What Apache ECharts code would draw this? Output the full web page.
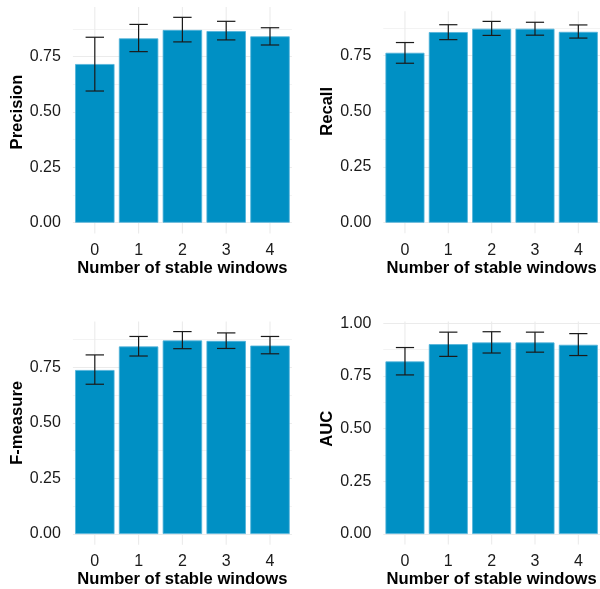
<!DOCTYPE html>
<html>
<head>
<meta charset="utf-8">
<script src="https://cdn.jsdelivr.net/npm/echarts@6/dist/echarts.min.js"></script>
<style>
  html, body { margin: 0; padding: 0; background: #fff; }
  #chart { width: 600px; height: 589px; }
</style>
</head>
<body>
<div id="chart"></div>
<script>
// number of stable windows
const windows = ['0', '1', '2', '3', '4'];

const precisionMean = [0.717, 0.833, 0.871, 0.866, 0.842];
const precisionLow  = [0.595, 0.773, 0.817, 0.826, 0.803];
const precisionHigh = [0.838, 0.896, 0.928, 0.910, 0.881];

const recallMean = [0.763, 0.856, 0.871, 0.871, 0.857];
const recallLow  = [0.716, 0.822, 0.841, 0.842, 0.829];
const recallHigh = [0.809, 0.889, 0.904, 0.900, 0.888];

const fmeasureMean = [0.738, 0.844, 0.871, 0.869, 0.848];
const fmeasureLow  = [0.674, 0.801, 0.834, 0.835, 0.811];
const fmeasureHigh = [0.806, 0.889, 0.911, 0.905, 0.889];

const aucMean = [0.819, 0.901, 0.909, 0.909, 0.898];
const aucLow  = [0.755, 0.843, 0.859, 0.863, 0.847];
const aucHigh = [0.885, 0.958, 0.960, 0.958, 0.951];

const yTicks = [0, 0.25, 0.5, 0.75, 1];

const panels = [
  { name: 'Precision', mean: precisionMean, low: precisionLow, high: precisionHigh },
  { name: 'Recall',    mean: recallMean,    low: recallLow,    high: recallHigh },
  { name: 'F-measure', mean: fmeasureMean,  low: fmeasureLow,  high: fmeasureHigh },
  { name: 'AUC',       mean: aucMean,       low: aucLow,       high: aucHigh }
];

// pixel boxes: top = where 1.00 would sit, bottom of box = 0.00
const boxes = [
  { left: 72.9,  top: 1.4,   width: 219, height: 221.3 },
  { left: 383.3, top: -4.5,  width: 219, height: 227.2 },
  { left: 72.9,  top: 311.8, width: 219, height: 223.7 },
  { left: 383.3, top: 323.3, width: 219, height: 212.2 }
];

const FONT = "'Liberation Sans', Arial, sans-serif";
const BAR = '#0090c4';
const GRID_LINE = '#ebebeb';

const grids = [], xAxes = [], yAxes = [], series = [];

panels.forEach((p, i) => {
  const showTop = i === 3;
  grids.push(Object.assign({}, boxes[i]));

  xAxes.push({
    gridIndex: i,
    type: 'category',
    data: windows,
    name: 'Number of stable windows',
    nameLocation: 'middle',
    nameGap: 37,
    nameTextStyle: { fontFamily: FONT, fontSize: 16.6, fontWeight: 'bold', color: '#000' },
    axisLine: { show: false },
    axisTick: { show: false },
    splitLine: { show: false },
    axisLabel: { fontFamily: FONT, fontSize: 16, color: '#1a1a1a', margin: 20 }
  });

  yAxes.push({
    gridIndex: i,
    type: 'value',
    min: yTicks[0],
    max: yTicks[yTicks.length - 1],
    interval: 0.25,
    name: p.name,
    nameLocation: 'middle',
    nameGap: 46,
    nameTextStyle: { fontFamily: FONT, fontSize: 16.6, fontWeight: 'bold', color: '#000' },
    axisLine: { show: false },
    axisTick: { show: false },
    axisLabel: {
      fontFamily: FONT, fontSize: 16, color: '#1a1a1a', margin: 12,
      showMaxLabel: showTop,
      formatter: v => v.toFixed(2)
    },
    splitLine: { show: true, showMaxLine: showTop, lineStyle: { color: GRID_LINE, width: 1.1 } },
    minorTick: { show: false, splitNumber: 2 },
    minorSplitLine: { show: true, lineStyle: { color: '#f3f3f3', width: 1 } }
  });

  // vertical grid lines across the ggplot-style expanded panel
  const yTop = Math.max(...p.high) * 1.05;
  const yBot = -0.05 * yTop;
  series.push({
    type: 'custom',
    xAxisIndex: i, yAxisIndex: i,
    z: 1, silent: true, clip: false,
    data: windows.map((w, k) => [k]),
    renderItem: (params, api) => {
      const a = api.coord([api.value(0), yBot]);
      const b = api.coord([api.value(0), yTop]);
      return {
        type: 'line',
        shape: { x1: a[0], y1: a[1], x2: b[0], y2: b[1] },
        style: { stroke: GRID_LINE, lineWidth: 1.1 }
      };
    }
  });

  series.push({
    type: 'bar',
    xAxisIndex: i, yAxisIndex: i,
    z: 2,
    barWidth: '90%',
    data: p.mean,
    itemStyle: { color: BAR, borderColor: '#52b3d9', borderWidth: 0.8 },
    silent: true
  });

  series.push({
    type: 'custom',
    xAxisIndex: i, yAxisIndex: i,
    z: 5, silent: true, clip: false,
    data: p.low.map((l, k) => [k, l, p.high[k]]),
    encode: { x: 0, y: [1, 2] },
    renderItem: (params, api) => {
      const k = api.value(0);
      const lo = api.coord([k, api.value(1)]);
      const hi = api.coord([k, api.value(2)]);
      const half = api.size([1, 0])[0] * 0.21;
      const style = { stroke: '#1a1a1a', lineWidth: 1.2 };
      return {
        type: 'group',
        children: [
          { type: 'line', shape: { x1: lo[0], y1: lo[1], x2: hi[0], y2: hi[1] }, style },
          { type: 'line', shape: { x1: lo[0] - half, y1: lo[1], x2: lo[0] + half, y2: lo[1] }, style },
          { type: 'line', shape: { x1: hi[0] - half, y1: hi[1], x2: hi[0] + half, y2: hi[1] }, style }
        ]
      };
    }
  });
});

const chart = echarts.init(document.getElementById('chart'), null, { renderer: 'canvas' });
chart.setOption({
  animation: false,
  backgroundColor: '#fff',
  grid: grids,
  xAxis: xAxes,
  yAxis: yAxes,
  series: series
});
</script>
</body>
</html>
